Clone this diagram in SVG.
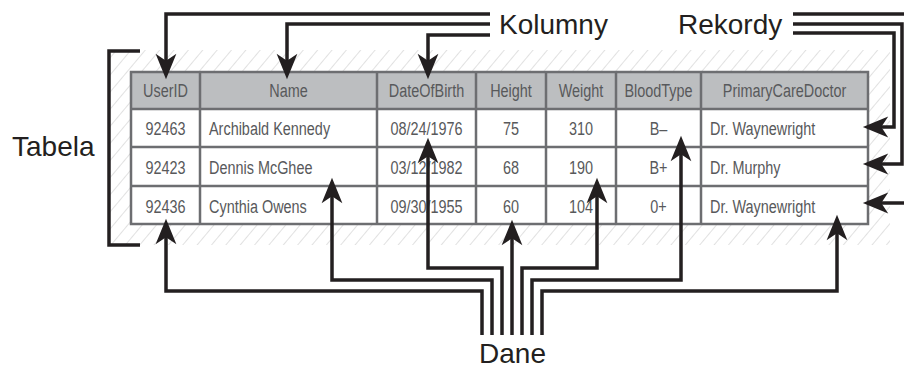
<svg xmlns="http://www.w3.org/2000/svg" width="904" height="370" viewBox="0 0 904 370">
<style>
.lbl{font-family:"Liberation Sans",Arial,sans-serif;font-size:28px;fill:#231f20}
.cell{font-family:"Liberation Sans",Arial,sans-serif;font-size:19px;fill:#58595b}
.mid{text-anchor:middle}
.grid{stroke:#6d6e71;stroke-width:2.5;fill:none}
.conn{stroke:#231f20;stroke-width:3.5;fill:none;stroke-linejoin:miter;marker-end:url(#arr)}
.plain{stroke:#231f20;stroke-width:3.5;fill:none;stroke-linejoin:miter}
</style>
<defs>
<pattern id="hatch" width="11" height="11" patternUnits="userSpaceOnUse" patternTransform="rotate(40)">
<line x1="0" y1="0" x2="0" y2="11" stroke="#c4c4c4" stroke-width="1"/>
</pattern>
<marker id="arr" markerUnits="userSpaceOnUse" markerWidth="30" markerHeight="30" viewBox="-10 -12 26 24" refX="0" refY="0" orient="auto">
<path d="M14,0 L-8,-9 L-2,0 L-8,9 Z" fill="#231f20"/>
</marker>
</defs>
<rect x="0" y="0" width="904" height="370" fill="#fff"/>
<g id="tabela">
<rect x="110" y="50" width="780" height="195" fill="url(#hatch)"/>
<path class="plain" d="M140,51 H109 V245 H140"/>
<text class="lbl" x="12" y="156">Tabela</text>
</g>
<g id="table">
<rect x="131" y="72" width="737" height="152" fill="#fff"/>
<rect x="131" y="72" width="737" height="37" fill="#bcbec0"/>
<path class="grid" d="M131,109 H868 M131,147 H868 M131,186 H868 M200,72 V224 M377,72 V224 M476,72 V224 M546,72 V224 M616,72 V224 M701,72 V224"/>
<rect class="grid" x="131" y="72" width="737" height="152"/>
<g id="header">
<text class="cell mid" transform="translate(165.5,97) scale(0.76,1)">UserID</text>
<text class="cell mid" transform="translate(288.5,97) scale(0.76,1)">Name</text>
<text class="cell mid" transform="translate(426.5,97) scale(0.76,1)">DateOfBirth</text>
<text class="cell mid" transform="translate(511,97) scale(0.76,1)">Height</text>
<text class="cell mid" transform="translate(581,97) scale(0.76,1)">Weight</text>
<text class="cell mid" transform="translate(658.5,97) scale(0.76,1)">BloodType</text>
<text class="cell mid" transform="translate(784.5,97) scale(0.76,1)">PrimaryCareDoctor</text>
</g>
<g id="row1">
<text class="cell mid" transform="translate(165.5,135) scale(0.76,1)">92463</text>
<text class="cell" transform="translate(209,135) scale(0.76,1)">Archibald Kennedy</text>
<text class="cell mid" transform="translate(426.5,135) scale(0.76,1)">08/24/1976</text>
<text class="cell mid" transform="translate(511,135) scale(0.76,1)">75</text>
<text class="cell mid" transform="translate(581,135) scale(0.76,1)">310</text>
<text class="cell mid" transform="translate(658.5,135) scale(0.76,1)">B–</text>
<text class="cell" transform="translate(710,135) scale(0.76,1)">Dr. Waynewright</text>
</g>
<g id="row2">
<text class="cell mid" transform="translate(165.5,174) scale(0.76,1)">92423</text>
<text class="cell" transform="translate(209,174) scale(0.76,1)">Dennis McGhee</text>
<text class="cell mid" transform="translate(426.5,174) scale(0.76,1)">03/12/1982</text>
<text class="cell mid" transform="translate(511,174) scale(0.76,1)">68</text>
<text class="cell mid" transform="translate(581,174) scale(0.76,1)">190</text>
<text class="cell mid" transform="translate(658.5,174) scale(0.76,1)">B+</text>
<text class="cell" transform="translate(710,174) scale(0.76,1)">Dr. Murphy</text>
</g>
<g id="row3">
<text class="cell mid" transform="translate(165.5,213) scale(0.76,1)">92436</text>
<text class="cell" transform="translate(209,213) scale(0.76,1)">Cynthia Owens</text>
<text class="cell mid" transform="translate(426.5,213) scale(0.76,1)">09/30/1955</text>
<text class="cell mid" transform="translate(511,213) scale(0.76,1)">60</text>
<text class="cell mid" transform="translate(581,213) scale(0.76,1)">104</text>
<text class="cell mid" transform="translate(658.5,213) scale(0.76,1)">0+</text>
<text class="cell" transform="translate(710,213) scale(0.76,1)">Dr. Waynewright</text>
</g>
</g>
<g id="kolumny"><text class="lbl" x="499" y="34">Kolumny</text></g>
<g id="rekordy"><text class="lbl" x="678" y="34">Rekordy</text></g>
<g id="dane"><text class="lbl mid" x="512.5" y="363">Dane</text></g>
<g id="connectors">
<path class="conn" d="M490,14 H166 V63"/>
<path class="conn" d="M490,24 H287 V63"/>
<path class="conn" d="M490,35 H428 V63"/>
<path class="conn" d="M793,33 H894 V127 H879"/>
<path class="conn" d="M793,24 H902 V164 H879"/>
<path class="plain" d="M793,14 H906"/>
<path class="conn" d="M906,203 H879"/>
<path class="conn" d="M482,335 V291 H166 V235"/>
<path class="conn" d="M492,335 V280 H332 V194"/>
<path class="conn" d="M502,335 V268 H428 V154"/>
<path class="conn" d="M512,335 V236"/>
<path class="conn" d="M522,335 V268 H597 V194"/>
<path class="conn" d="M532,335 V280 H681 V152"/>
<path class="conn" d="M542,335 V291 H837 V231"/>
</g>
</svg>
